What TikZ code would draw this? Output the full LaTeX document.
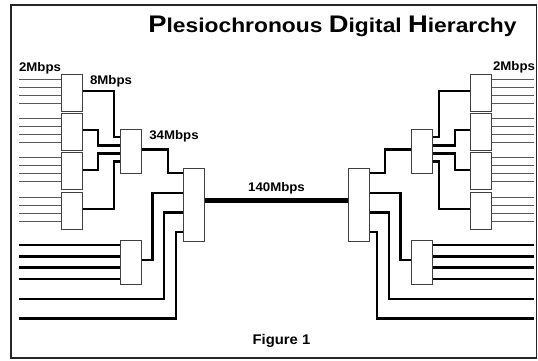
\documentclass[tikz,border=0pt]{standalone}
\usepackage{graphicx}
\usepackage{fontspec}
\setmainfont{Liberation Sans}

\newcommand{\titlecap}[1]{{\fontsize{24}{28}\selectfont #1}}
\newcommand{\titlerest}[1]{{\fontsize{20}{24}\selectfont #1}}
\newcommand{\ratetext}[1]{\scalebox{1.06}[1]{#1}}

\begin{document}
\begin{tikzpicture}[
    x=1pt,
    y=-1pt,
    mux/.style={
        draw=black!75,
        line width=0.9pt,
        fill=white,
        inner sep=0pt,
        minimum width=20pt
    },
    trib/.style={
        line width=0.9pt,
        black!65
    },
    link/.style={
        line width=2.2pt,
        black
    },
    trunk/.style={
        line width=5pt,
        black
    },
    rate/.style={
        font=\bfseries\fontsize{12.5}{14}\selectfont,
        inner sep=1pt
    }
]

    \useasboundingbox (0,0) rectangle (538,360);
    \draw[line width=1.4pt, black!85] (11,5) rectangle (536.5,358);

    % title and caption
    \node[anchor=base, font=\bfseries, inner sep=0pt] (title) at (332.5,32.7)
        {\scalebox{1.14}[1]{\titlecap{P}\titlerest{lesiochronous }\titlecap{D}\titlerest{igital }\titlecap{H}\titlerest{ierarchy}}};
    \node[rate, font=\bfseries\fontsize{14}{16}\selectfont] (caption) at (281.5,340.5) {\ratetext{Figure 1}};

    % left multiplexers
    \node[mux, minimum height=36pt] (m8aL) at (72,93) {};
    \node[mux, minimum height=36pt] (m8bL) at (72,132) {};
    \node[mux, minimum height=36pt] (m8cL) at (72,171) {};
    \node[mux, minimum height=36pt] (m8dL) at (72,211) {};
    \node[mux, minimum height=43pt] (m34aL) at (131,151.5) {};
    \node[mux, minimum height=43pt] (m34bL) at (131,262) {};
    \node[mux, minimum height=72pt] (m140L) at (194,205) {};

    % right multiplexers
    \node[mux, minimum height=36pt] (m8aR) at (481,93) {};
    \node[mux, minimum height=36pt] (m8bR) at (481,132) {};
    \node[mux, minimum height=36pt] (m8cR) at (481,171) {};
    \node[mux, minimum height=36pt] (m8dR) at (481,211) {};
    \node[mux, minimum height=43pt] (m34aR) at (422,151.5) {};
    \node[mux, minimum height=43pt] (m34bR) at (422,262) {};
    \node[mux, minimum height=72pt] (m140R) at (359,205) {};

    % free ends of the direct 34Mbps lines
    \coordinate (in34aL) at (19,299);
    \coordinate (in34bL) at (19,318.5);
    \coordinate (in34aR) at (534,299);
    \coordinate (in34bR) at (534,318.5);

    % 2Mbps tributaries
    \foreach \b in {m8aL,m8bL,m8cL,m8dL}
        \foreach \dy in {-14,-6,2,10}
            \draw[trib] ([yshift=-\dy pt]\b.west) -- +(-43,0);
    \foreach \b in {m8aR,m8bR,m8cR,m8dR}
        \foreach \dy in {-14,-6,2,10}
            \draw[trib] ([yshift=-\dy pt]\b.east) -- +(43,0);

    % 8Mbps lines into the lower 34Mbps muxes
    \foreach \dy in {-17,-5.5,5.5,17} {
        \draw[link] ([yshift=-\dy pt]m34bL.west) -- +(-102,0);
        \draw[link] ([yshift=-\dy pt]m34bR.east) -- +(102,0);
    }

    % left side links
    \draw[link] ([yshift=2pt]m8aL.east) -| (114,137) -- (m34aL.west |- 0,137);
    \draw[link] ([yshift=2pt]m8bL.east) -| (98,145.5) -- (m34aL.west |- 0,145.5);
    \draw[link] ([yshift=1pt]m8cL.east) -| (98,153.5) -- (m34aL.west |- 0,153.5);
    \draw[link] ([yshift=2pt]m8dL.east) -| (114,161.5) -- (m34aL.west |- 0,161.5);
    \draw[link] ([yshift=2pt]m34aL.east) -| (168,173) -- (m140L.west |- 0,173);
    \draw[link] ([yshift=2pt]m34bL.east) -| (152.5,193) -- (m140L.west |- 0,193);
    \draw[link] (in34aL) -| (164,212.5) -- (m140L.west |- 0,212.5);
    \draw[link] (in34bL) -| (176,232) -- (m140L.west |- 0,232);

    % right side links
    \draw[link] ([yshift=2pt]m8aR.west) -| (439,137) -- (m34aR.east |- 0,137);
    \draw[link] ([yshift=2pt]m8bR.west) -| (455,145.5) -- (m34aR.east |- 0,145.5);
    \draw[link] ([yshift=1pt]m8cR.west) -| (455,153.5) -- (m34aR.east |- 0,153.5);
    \draw[link] ([yshift=2pt]m8dR.west) -| (439,161.5) -- (m34aR.east |- 0,161.5);
    \draw[link] ([yshift=2pt]m34aR.west) -| (385,173) -- (m140R.east |- 0,173);
    \draw[link] ([yshift=2pt]m34bR.west) -| (400.5,193) -- (m140R.east |- 0,193);
    \draw[link] (in34aR) -| (389,212.5) -- (m140R.east |- 0,212.5);
    \draw[link] (in34bR) -| (377,232) -- (m140R.east |- 0,232);

    % 140Mbps trunk
    \draw[trunk] ([yshift=4.3pt]m140L.east) -- node[rate, above=3pt] (lab140) {\ratetext{140Mbps}}
        ([yshift=4.3pt]m140R.west);

    % redraw the boxes over the line ends
    \foreach \b in {m8aL,m8bL,m8cL,m8dL,m34aL,m34bL,m140L,m8aR,m8bR,m8cR,m8dR,m34aR,m34bR,m140R}
        \draw[draw=black!75, line width=0.9pt, fill=white] (\b.south west) rectangle (\b.north east);

    % rate labels
    \node[rate] (lab2L) at (40,68.5) {\ratetext{2Mbps}};
    \node[rate] (lab2R) at (514,67) {\ratetext{2Mbps}};
    \node[rate] (lab8) at (111,81.5) {\ratetext{8Mbps}};
    \node[rate] (lab34) at (174,136) {\ratetext{34Mbps}};

\end{tikzpicture}
\end{document}
